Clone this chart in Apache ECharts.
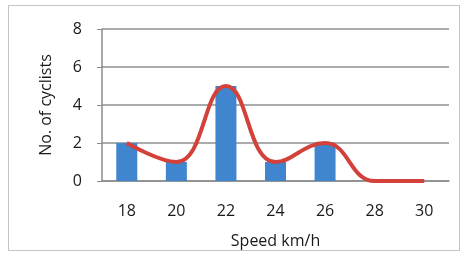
<!DOCTYPE html>
<html>
<head>
<meta charset="utf-8">
<script src="https://cdn.jsdelivr.net/npm/echarts@6/dist/echarts.min.js"></script>
<style>
  html, body { margin: 0; padding: 0; background: #fff; }
  #frame { position: absolute; left: 8px; top: 5px; width: 452px; height: 246px; border: 1px solid #c4c4c4; box-sizing: border-box; }
  #box { width: 469px; height: 255px; }
</style>
</head>
<body>
<div id="frame"></div>
<div id="box"></div>
<script>
// speed classes and number of cyclists
var speeds = ['18', '20', '22', '24', '26', '28', '30'];
var cyclists = [2, 1, 5, 1, 2, 0, 0];
var yTicks = [0, 2, 4, 6, 8];

var myChart = echarts.init(document.getElementById('box'));
var textBase = { fontFamily: 'Open Sans', fontSize: 16, color: '#1a1a1a' };
var option = {
    animation: false,
    grid: { left: 102, right: 20, top: 29, bottom: 74 },
    xAxis: {
        type: 'category',
        data: speeds,
        name: 'Speed km/h',
        nameLocation: 'middle',
        nameGap: 52,
        nameTextStyle: textBase,
        axisLine: { lineStyle: { color: '#8c8c8c', width: 1.5 } },
        axisTick: { show: false },
        axisLabel: Object.assign({ margin: 22 }, textBase)
    },
    yAxis: {
        type: 'value',
        min: yTicks[0],
        max: yTicks[yTicks.length - 1],
        interval: 2,
        name: 'No. of cyclists',
        nameLocation: 'middle',
        nameGap: 48,
        nameTextStyle: textBase,
        axisLine: { show: true, lineStyle: { color: '#8c8c8c', width: 1.5 } },
        axisTick: { show: true, length: 5, lineStyle: { color: '#8c8c8c' } },
        axisLabel: Object.assign({ margin: 20 }, textBase),
        splitLine: { lineStyle: { color: '#8f8f8f', width: 1.5 } }
    },
    series: [
        {
            type: 'bar',
            data: cyclists,
            barWidth: 21,
            itemStyle: { color: '#3f86cf' }
        },
        {
            type: 'line',
            data: cyclists,
            smooth: 0.45,
            symbol: 'none',
            lineStyle: { color: '#d2423a', width: 4 }
        }
    ]
};

option && myChart.setOption(option);
</script>
</body>
</html>
